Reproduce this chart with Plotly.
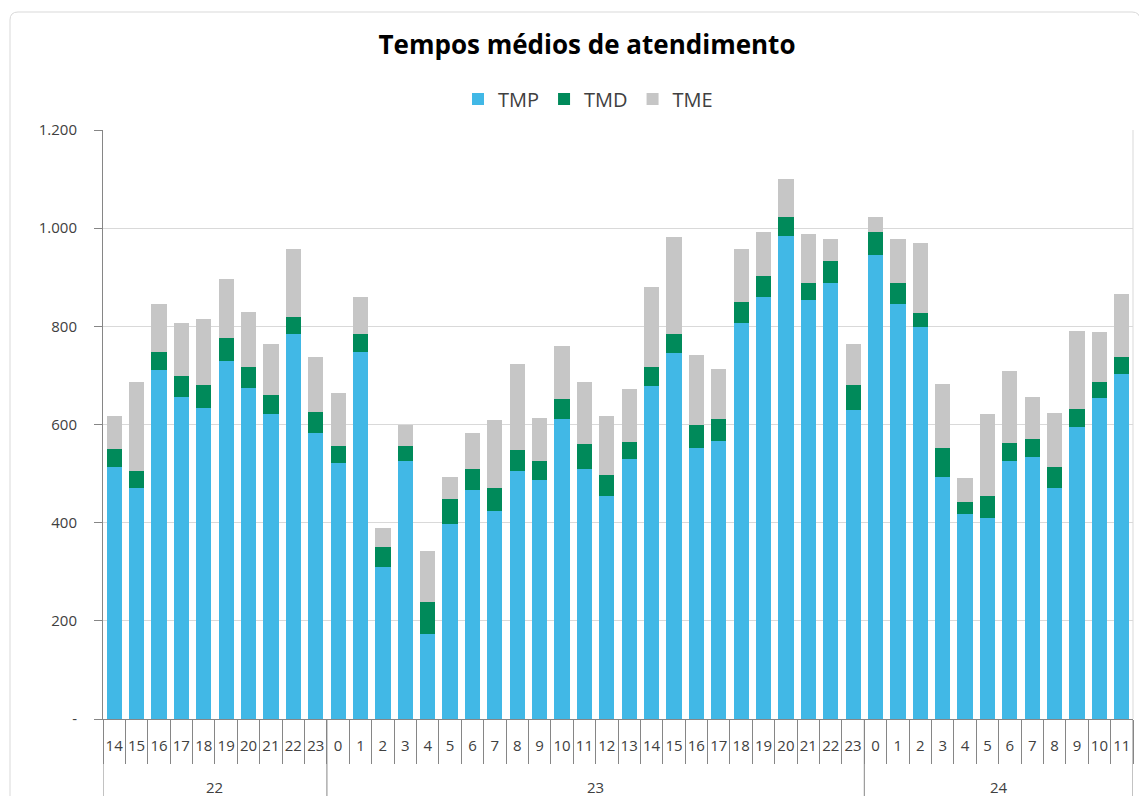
import plotly.graph_objects as go

days = ["22"] * 10 + ["23"] * 24 + ["24"] * 12
hours = [str(h) for h in range(14, 24)] + [str(h) for h in range(0, 24)] + [str(h) for h in range(0, 12)]

tmp = [513, 470, 711, 656, 634, 729, 674, 621, 784, 583,
       522, 748, 309, 525, 173, 397, 467, 424, 506, 486, 611, 509, 455, 529,
       679, 745, 552, 567, 807, 860, 984, 853, 888, 630,
       946, 846, 799, 494, 417, 410, 526, 533, 471, 595, 653, 702]
tmd = [37, 35, 37, 43, 47, 47, 43, 39, 35, 42,
       34, 36, 42, 31, 66, 51, 42, 47, 42, 39, 41, 51, 43, 35,
       39, 39, 46, 44, 42, 43, 39, 35, 46, 50,
       46, 42, 28, 58, 26, 45, 37, 38, 42, 37, 34, 36]
tme = [67, 182, 98, 108, 134, 120, 112, 104, 139, 113,
       108, 76, 39, 43, 104, 46, 73, 138, 175, 89, 108, 127, 120, 108,
       163, 197, 143, 103, 109, 89, 77, 100, 43, 84,
       31, 89, 142, 131, 47, 166, 147, 86, 111, 159, 101, 127]

y_tickvals = [0, 200, 400, 600, 800, 1000, 1200]
y_ticktext = ["-", "200", "400", "600", "800", "1.000", "1.200"]

FONT = "Open Sans"
n = len(hours)
idx = list(range(n))

fig = go.Figure()
fig.add_trace(go.Bar(name="TMP", x=idx, y=tmp, marker=dict(color="#41B8E6", line=dict(width=0))))
fig.add_trace(go.Bar(name="TMD", x=idx, y=tmd, marker=dict(color="#008A5A", line=dict(width=0))))
fig.add_trace(go.Bar(name="TME", x=idx, y=tme, marker=dict(color="#C6C6C6", line=dict(width=0))))

# page body adds an 8px offset; work in reference pixels minus 8
OFF = 8
W, H = 1147 - OFF, 796 - OFF
L, T = 103 - OFF, 130 - OFF
R = W - (1133 - OFF)
B = H - (719 - OFF)
pw, ph = W - L - R, H - T - B

def px(xp):
    return (xp - OFF - L) / pw

def py(yp):
    return (H - B - (yp - OFF)) / ph

# outer rounded chart border
x0, x1, y0, y1 = px(10), px(1140), py(12), py(840)
rx, ry = 8 / pw, 8 / ph
path = (f"M {x0+rx},{y0} L {x1-rx},{y0} Q {x1},{y0} {x1},{y0-ry} "
        f"L {x1},{y1+ry} Q {x1},{y1} {x1-rx},{y1} L {x0+rx},{y1} "
        f"Q {x0},{y1} {x0},{y1+ry} L {x0},{y0-ry} Q {x0},{y0} {x0+rx},{y0} Z")

shapes = [
    dict(type="path", xref="paper", yref="paper", path=path,
         line=dict(color="#D9D9D9", width=1), fillcolor="rgba(0,0,0,0)", layer="below"),
    dict(type="line", xref="paper", yref="paper", x0=1, x1=1, y0=0, y1=1,
         line=dict(color="#D9D9D9", width=1)),
]

# group boundaries and labels
groups = []
start = 0
for i in range(1, n + 1):
    if i == n or days[i] != days[start]:
        groups.append((days[start], start, i - 1))
        start = i

annotations = []
bounds = sorted(set([g[1] - 0.5 for g in groups] + [groups[-1][2] + 0.5]))
for b in bounds:
    shapes.append(dict(type="line", xref="x", yref="paper", x0=b, x1=b,
                       y0=0, y1=py(810), line=dict(color="#868686", width=1)))
for name, s, e in groups:
    annotations.append(dict(text=name, x=(s + e) / 2, xref="x", y=py(787), yref="paper",
                            showarrow=False, xanchor="center", yanchor="middle",
                            font=dict(family=FONT, size=15, color="#404040")))

fig.update_layout(
    width=W, height=H,
    barmode="stack", bargap=0.32,
    margin=dict(l=L, r=R, t=T, b=B, pad=0, autoexpand=False),
    paper_bgcolor="white", plot_bgcolor="white",
    font=dict(family=FONT, size=14, color="#404040"),
    title=dict(text="<b>Tempos médios de atendimento</b>", x=(587 - OFF) / W, xanchor="center",
               y=1 - (45 - OFF) / H, yanchor="middle",
               font=dict(family=FONT, size=26, color="#000000")),
    legend=dict(orientation="h", x=px(588), xanchor="center", y=py(99), yanchor="middle",
                font=dict(family=FONT, size=20, color="#404040"),
                itemwidth=30, traceorder="normal"),
    showlegend=True,
    shapes=shapes,
    annotations=annotations,
)

fig.update_yaxes(range=[0, 1200], tickvals=y_tickvals, ticktext=y_ticktext,
                 showgrid=True, gridcolor="#D9D9D9", gridwidth=1,
                 showline=True, linecolor="#868686", linewidth=1,
                 ticks="outside", ticklen=8, tickcolor="#868686", automargin=False,
                 ticklabelstandoff=14,
                 tickfont=dict(family=FONT, size=15, color="#404040"), zeroline=False)
fig.update_xaxes(range=[-0.5, n - 0.5], tickvals=idx, ticktext=hours,
                 showline=True, linecolor="#868686", linewidth=1,
                 ticks="", ticklabelstandoff=13, automargin=False,
                 minor=dict(tickvals=[i - 0.5 for i in range(n + 1)], ticks="outside",
                            ticklen=44, tickcolor="#868686", showgrid=False),
                 tickfont=dict(family=FONT, size=15, color="#404040"), showgrid=False,
                 zeroline=False)

fig.write_html("out.html")
